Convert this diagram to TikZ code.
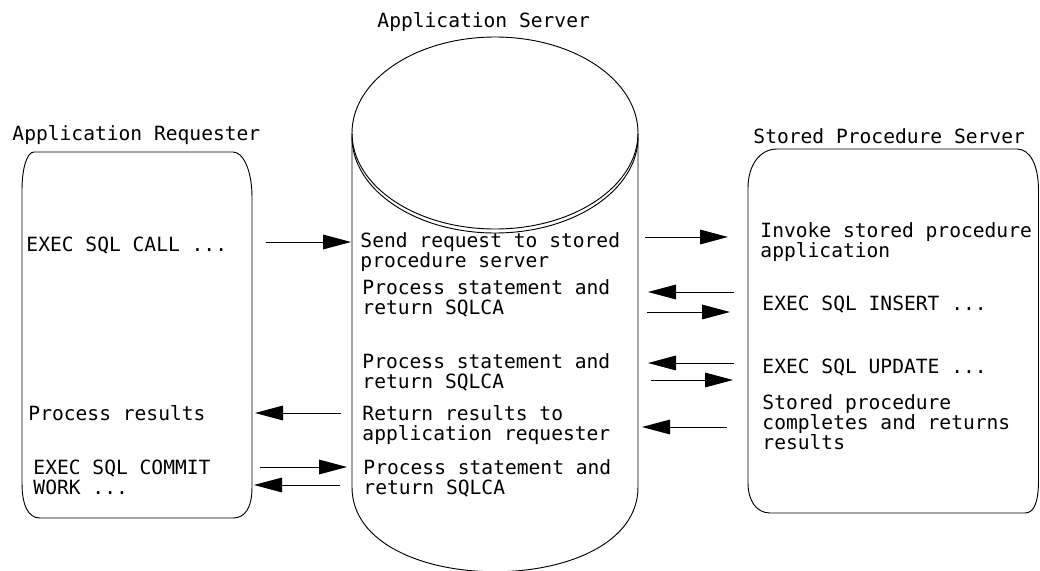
\documentclass[tikz,border=0pt]{standalone}
\usepackage{fontspec}
\newfontfamily\lblfont{DejaVu Sans Mono}
\usetikzlibrary{arrows.meta}

\begin{document}
\begin{tikzpicture}
  [x=0.75pt,y=-0.75pt,
   lbl/.style={anchor=base west,inner sep=0,align=left,
               font=\lblfont\fontsize{14.7}{15}\selectfont},
   flow/.style={-{Triangle[length=21pt,width=11pt]}},
   line width=0.7pt]

  \useasboundingbox (0,0) rectangle (1040,571);

  % requester box
  \draw (22,483) -- (22,190) .. controls (22,168) and (27,152) .. (34,152)
    -- (233,152) .. controls (243,152) and (252,170) .. (252,197)
    -- (252,487) .. controls (252,508) and (245,518) .. (233,518)
    -- (40,518) .. controls (28,518) and (22,505) .. (22,483) -- cycle;

  % stored procedure box
  \draw (748,483) -- (748,188) .. controls (748,165) and (760,149) .. (777,149)
    -- (1017,149) .. controls (1030,149) and (1038.5,165) .. (1038.5,190)
    -- (1038.5,480) .. controls (1038.5,500) and (1035,513) .. (1025,513)
    -- (770,513) .. controls (756,513) and (748,500) .. (748,483) -- cycle;

  % server cylinder
  \draw (495,133) ellipse [x radius=143,y radius=96];
  \draw (352,137) arc [start angle=180,end angle=0,x radius=143,y radius=96];
  \draw (352,133) -- (352,487) .. controls (352,600) and (638,600) .. (638,487)
    -- (638,133);

  % labels (base = last line)
  \node[lbl] (tS) at (377,27)  {Application Server};
  \node[lbl] (tR) at (12,140)  {Application Requester};
  \node[lbl] (tP) at (753,143) {Stored Procedure Server};

  \node[lbl] (call)    at (26,251)  {EXEC SQL CALL ...};
  \node[lbl] (results) at (28,420)  {Process results};
  \node[lbl] (commit)  at (33,494)  {EXEC SQL COMMIT\\WORK ...};

  \node[lbl] (send)  at (360,267) {Send request to stored\\procedure server};
  \node[lbl] (proc1) at (362,314) {Process statement and\\return SQLCA};
  \node[lbl] (proc2) at (362,388) {Process statement and\\return SQLCA};
  \node[lbl] (ret)   at (362,440) {Return results to\\application requester};
  \node[lbl] (proc3) at (363,494) {Process statement and\\return SQLCA};

  \node[lbl] (invoke) at (760,257) {Invoke stored procedure\\application};
  \node[lbl] (insert) at (762,310) {EXEC SQL INSERT ...};
  \node[lbl] (update) at (762,373) {EXEC SQL UPDATE ...};
  \node[lbl] (done)   at (762,449) {Stored procedure\\completes and returns\\results};

  \coordinate (callS) at (266,242); \coordinate (callE) at (351,242);
  \coordinate (sendS) at (645,237); \coordinate (sendE) at (728,237);
  \coordinate (insS)  at (734,292); \coordinate (insE)  at (648,292);
  \coordinate (pr1S)  at (647,312); \coordinate (pr1E)  at (730,312);
  \coordinate (updS)  at (734,363); \coordinate (updE)  at (648,363);
  \coordinate (pr2S)  at (651,380); \coordinate (pr2E)  at (733,380);
  \coordinate (donS)  at (727,427); \coordinate (donE)  at (642,427);
  \coordinate (retS)  at (341,413); \coordinate (retE)  at (255,413);
  \coordinate (comS)  at (260,467); \coordinate (comE)  at (347,467);
  \coordinate (pr3S)  at (340,485); \coordinate (pr3E)  at (254,485);

  \draw [flow] (callS) -- (callE);
  \draw [flow] (sendS) -- (sendE);
  \draw [flow] (insS)  -- (insE);
  \draw [flow] (pr1S)  -- (pr1E);
  \draw [flow] (updS)  -- (updE);
  \draw [flow] (pr2S)  -- (pr2E);
  \draw [flow] (donS)  -- (donE);
  \draw [flow] (retS)  -- (retE);
  \draw [flow] (comS)  -- (comE);
  \draw [flow] (pr3S)  -- (pr3E);
\end{tikzpicture}
\end{document}
